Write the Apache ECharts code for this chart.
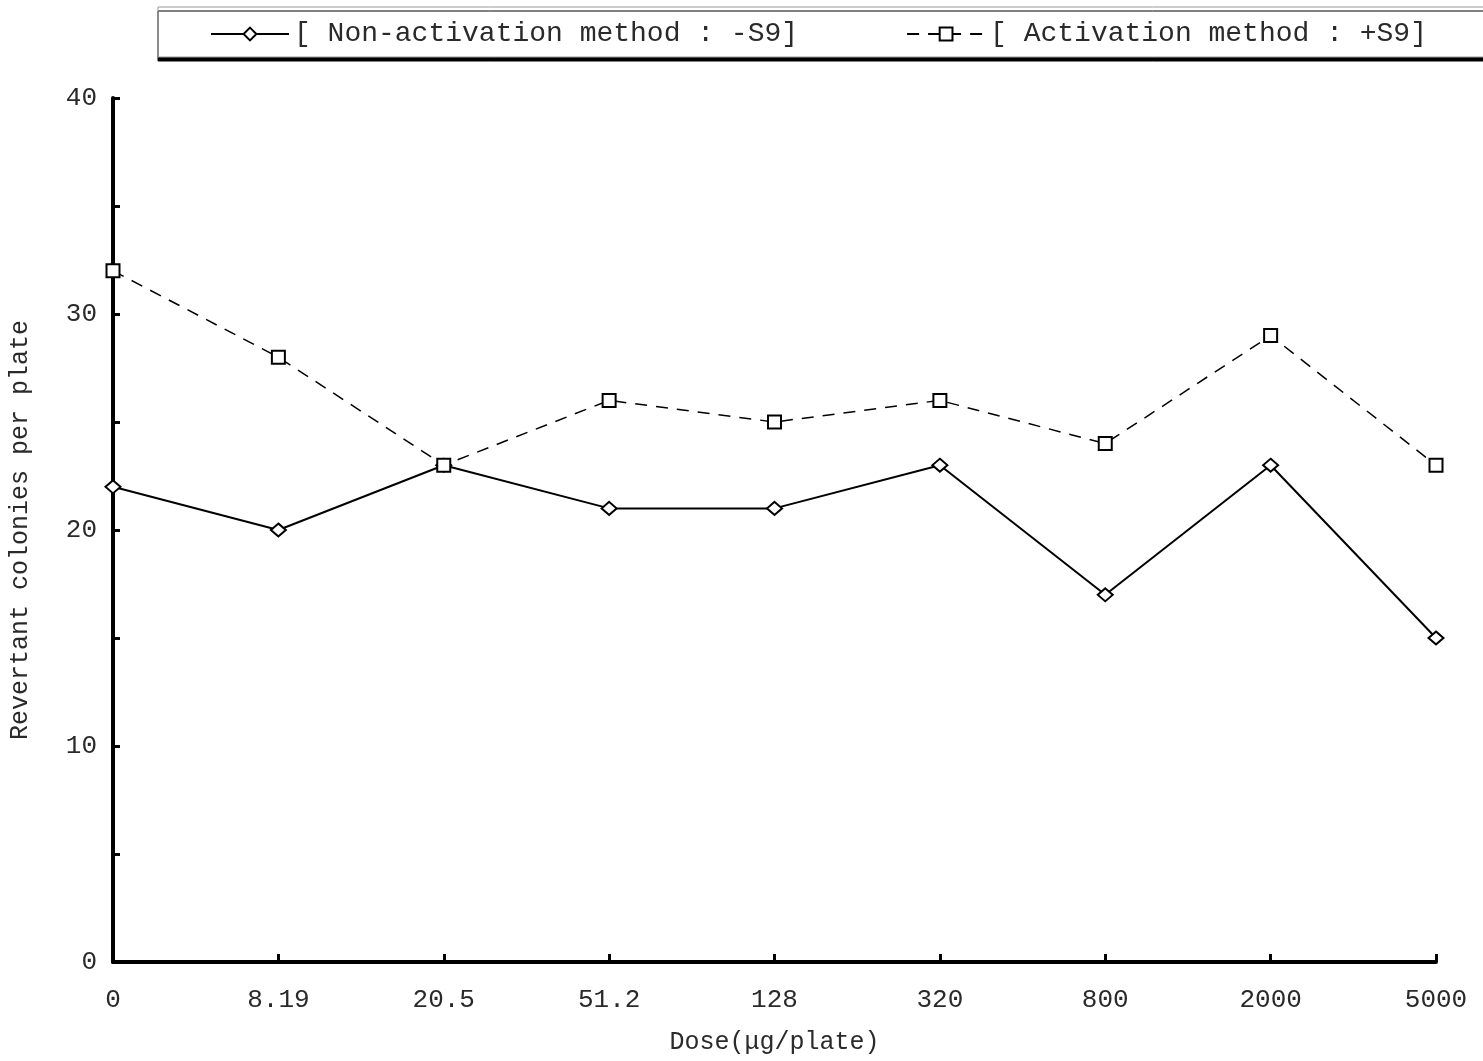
<!DOCTYPE html>
<html>
<head>
<meta charset="utf-8">
<script src="https://cdn.jsdelivr.net/npm/echarts@6/dist/echarts.min.js"></script>
<style>html,body{margin:0;padding:0;background:#fff;}#c{width:1483px;height:1061px;}</style>
</head>
<body>
<div id="c"></div>
<script>
const categories = ['0', '8.19', '20.5', '51.2', '128', '320', '800', '2000', '5000'];
const nonActivation = [22, 20, 23, 21, 21, 23, 17, 23, 15];
const activation = [32, 28, 23, 26, 25, 26, 24, 29, 23];
const seriesNames = ['[ Non-activation method : -S9]', '[ Activation method : +S9]'];
const yTicks = [0, 10, 20, 30, 40];

const FONT = '"Liberation Mono", "DejaVu Sans Mono", monospace';
const chart = echarts.init(document.getElementById('c'), null, {renderer: 'canvas'});
chart.setOption({
  backgroundColor: '#fff',
  animation: false,
  grid: {left: 111, right: 47, top: 98, bottom: 99, containLabel: false},
  legend: {
    orient: 'horizontal',
    left: 158, top: 7, width: 1400,
    padding: [13, 70, 9, 52],
    itemGap: 108,
    itemWidth: 78, itemHeight: 16,
    backgroundColor: '#fff',
    borderColor: '#999', borderWidth: 1,
    shadowColor: '#000', shadowBlur: 0, shadowOffsetX: 0, shadowOffsetY: 4,
    textStyle: {fontFamily: FONT, fontSize: 28, color: '#2a2a2a'},
    data: seriesNames
  },
  xAxis: {
    type: 'category',
    data: categories,
    boundaryGap: false,
    name: 'Dose(μg/plate)',
    nameLocation: 'middle',
    nameGap: 68,
    nameTextStyle: {fontFamily: FONT, fontSize: 25, color: '#2a2a2a'},
    axisLine: {lineStyle: {color: '#000', width: 4}},
    axisTick: {inside: true, length: 8, lineStyle: {color: '#000', width: 3}},
    axisLabel: {fontFamily: FONT, fontSize: 26, color: '#2a2a2a', margin: 25}
  },
  yAxis: {
    type: 'value',
    min: 0, max: 40, interval: 5,
    name: 'Revertant colonies per plate',
    nameLocation: 'middle',
    nameGap: 80,
    nameRotate: 90,
    nameTextStyle: {fontFamily: FONT, fontSize: 25, color: '#2a2a2a'},
    splitLine: {show: false},
    axisLine: {show: true, lineStyle: {color: '#000', width: 4}},
    axisTick: {show: true, inside: true, length: 7, lineStyle: {color: '#000', width: 3}},
    axisLabel: {
      fontFamily: FONT, fontSize: 26, color: '#2a2a2a', margin: 16,
      formatter: v => yTicks.indexOf(v) >= 0 ? String(v) : ''
    }
  },
  series: [
    {
      name: seriesNames[0], type: 'line', data: nonActivation,
      symbol: 'emptyDiamond', symbolSize: [15, 13],
      color: '#000',
      lineStyle: {color: '#000', width: 2, type: 'solid'},
      itemStyle: {color: '#000', borderColor: '#000', borderWidth: 2}
    },
    {
      name: seriesNames[1], type: 'line', data: activation,
      symbol: 'emptyRect', symbolSize: 13,
      color: '#000',
      lineStyle: {color: '#000', width: 1.5, type: [12, 9]},
      itemStyle: {color: '#000', borderColor: '#000', borderWidth: 2}
    }
  ]
});
</script>
</body>
</html>
